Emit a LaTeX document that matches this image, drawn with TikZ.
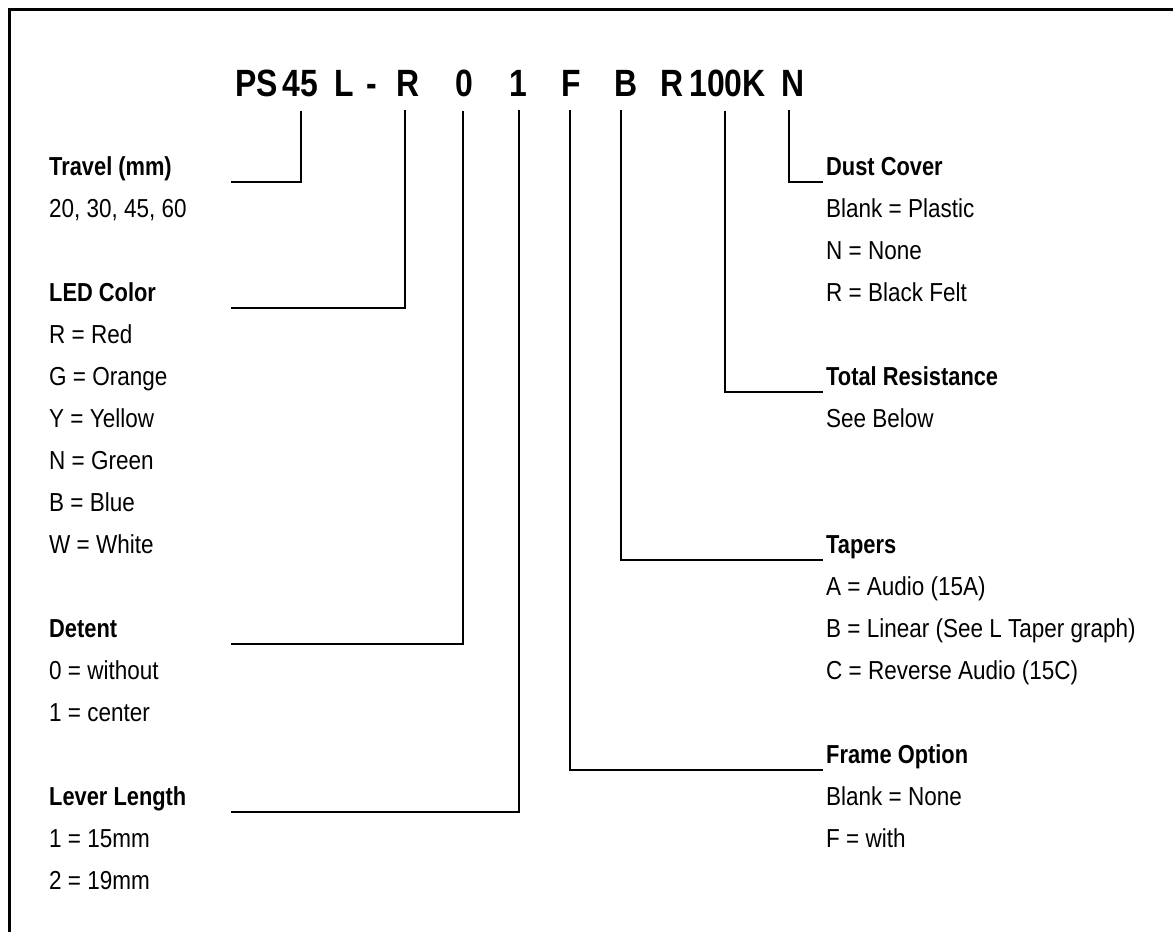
\documentclass[tikz,border=0pt]{standalone}
\usepackage{fontspec}
\setmainfont{Liberation Sans}[FakeStretch=0.865, BoldFeatures={FakeStretch=0.84}]
\usepackage{tikz}
\usetikzlibrary{calc}

\begin{document}
\begin{tikzpicture}[x=1pt, y=-1pt,
    code/.style={font=\fontsize{38}{40}\selectfont\bfseries, anchor=base, inner sep=0pt},
    head/.style={font=\fontsize{26}{30}\selectfont\bfseries, anchor=base west, inner sep=0pt},
    item/.style={font=\fontsize{26}{30}\selectfont, anchor=base west, inner sep=0pt},
    lead/.style={line width=2pt}]
  \useasboundingbox (0,0) rectangle (1173,932);
  \draw[line width=3pt] (9,932) -- (9,9) -- (1173,9);

  % part number
  \node[code] (cPS) at (256.6,96.5) {PS};
  \node[code] (c45) at (300.2,96.5) {45};
  \node[code] (cL) at (344.3,96.5) {L};
  \node[code] (cdash) at (372,96.5) {-};
  \node[code] (cR) at (408.4,96.5) {R};
  \node[code] (c0) at (463.9,96.5) {0};
  \node[code] (c1) at (518.3,96.5) {1};
  \node[code] (cF) at (571.1,96.5) {F};
  \node[code] (cB) at (625.6,96.5) {B};
  \node[code] (cR2) at (672.2,96.5) {R};
  \node[code] (c100K) at (727.5,96.5) {100K};
  \node[code] (cN) at (792.9,96.5) {N};

  % left column
  \coordinate (leftx) at (231,0);
  \node[head] (travel) at (49,175.5) {Travel (mm)};
  \node[item] (travel1) at (49,217.5) {20, 30, 45, 60};
  \node[head] (led) at (49,301.5) {LED Color};
  \foreach \txt [count=\k] in {R = Red, G = Orange, Y = Yellow, N = Green, B = Blue, W = White}
    \node[item] (led\k) at (49,301.5+42*\k) {\txt};
  \node[head] (detent) at (49,637.5) {Detent};
  \foreach \txt [count=\k] in {0 = without, 1 = center}
    \node[item] (detent\k) at (49,637.5+42*\k) {\txt};
  \node[head] (lever) at (49,805.5) {Lever Length};
  \foreach \txt [count=\k] in {1 = 15mm, 2 = 19mm}
    \node[item] (lever\k) at (49,805.5+42*\k) {\txt};

  % right column
  \node[head] (dust) at (826,175.5) {Dust Cover};
  \foreach \txt [count=\k] in {Blank = Plastic, N = None, R = Black Felt}
    \node[item] (dust\k) at (826,175.5+42*\k) {\txt};
  \node[head] (resist) at (826,385.5) {Total Resistance};
  \node[item] (resist1) at (826,427.5) {See Below};
  \node[head] (taper) at (826,553.5) {Tapers};
  \foreach \txt [count=\k] in {A = Audio (15A), B = Linear (See L Taper graph), C = Reverse Audio (15C)}
    \node[item] (taper\k) at (826,553.5+42*\k) {\txt};
  \node[head] (frame) at (826,763.5) {Frame Option};
  \foreach \txt [count=\k] in {Blank = None, F = with}
    \node[item] (frame\k) at (826,763.5+42*\k) {\txt};

  % leaders to the left
  \draw[lead] ([xshift=0.8pt]c45.south) ++(0,13.5) |- ([yshift=-6pt]travel.base -| leftx);
  \draw[lead] ([xshift=-3.9pt]cR.south) ++(0,13.5) |- ([yshift=-6pt]led.base -| leftx);
  \draw[lead] ([xshift=-1.3pt]c0.south) ++(0,13.5) |- ([yshift=-6pt]detent.base -| leftx);
  \draw[lead] ([xshift=0.4pt]c1.south) ++(0,13.5) |- ([yshift=-6pt]lever.base -| leftx);

  % leaders to the right
  \draw[lead] ([xshift=-3.9pt]cN.south) ++(0,13.5) |- ([xshift=-3pt, yshift=-6pt]dust.base west);
  \draw[lead] ([xshift=-2.5pt]c100K.south) ++(0,13.5) |- ([xshift=-3pt, yshift=-6pt]resist.base west);
  \draw[lead] ([xshift=-4.6pt]cB.south) ++(0,13.5) |- ([xshift=-3pt, yshift=-6pt]taper.base west);
  \draw[lead] ([xshift=-1.1pt]cF.south) ++(0,13.5) |- ([xshift=-3pt, yshift=-6pt]frame.base west);
\end{tikzpicture}
\end{document}
